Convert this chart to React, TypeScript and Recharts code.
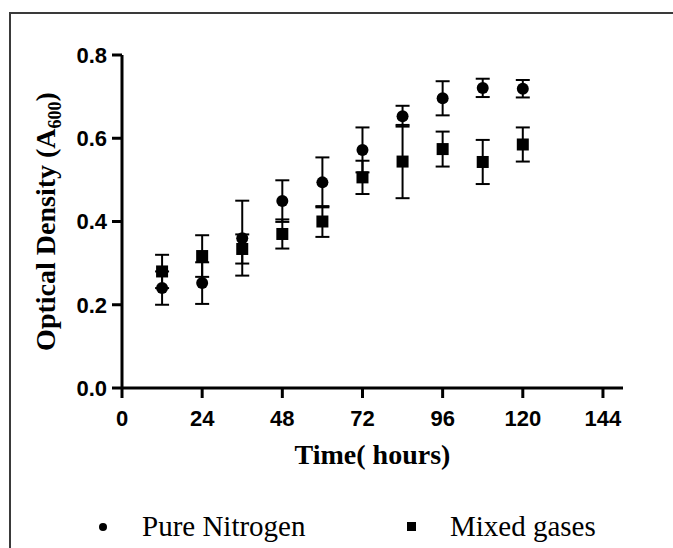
import { ScatterChart, Scatter, XAxis, YAxis, ErrorBar, Label, Legend } from "recharts";

// sampling times (hours)
const hours = [12, 24, 36, 48, 60, 72, 84, 96, 108, 120];

// optical density, pure nitrogen
const nitrogen = [0.24, 0.252, 0.36, 0.449, 0.494, 0.572, 0.653, 0.696, 0.721, 0.719];
const nitrogenErr = [0.04, 0.05, 0.09, 0.05, 0.06, 0.054, 0.025, 0.041, 0.022, 0.021];

// optical density, mixed gases
const mixed = [0.28, 0.317, 0.334, 0.37, 0.4, 0.506, 0.544, 0.574, 0.543, 0.585];
const mixedErr = [0.04, 0.05, 0.035, 0.035, 0.037, 0.04, 0.088, 0.042, 0.053, 0.041];

const xTicks = [0, 24, 48, 72, 96, 120, 144];
const yTicks = [0, 0.2, 0.4, 0.6, 0.8];

const nitrogenData = hours.map((x, i) => ({ x, y: nitrogen[i], err: nitrogenErr[i] }));
const mixedData = hours.map((x, i) => ({ x, y: mixed[i], err: mixedErr[i] }));

const sans = '"Liberation Sans", Arial, sans-serif';
const serif = '"Liberation Serif", "Times New Roman", serif';

const tickStyle = { fill: "#000", fontSize: 22, fontWeight: "bold", fontFamily: sans };

const Dot = (p: any) => <circle cx={p.cx} cy={p.cy} r={6} fill="#000" />;
const Square = (p: any) => <rect x={p.cx - 6} y={p.cy - 6} width={12} height={12} fill="#000" />;

const renderXLabel = (props: any) => {
  const vb = props.viewBox;
  return (
    <text
      x={vb.x + vb.width / 2}
      y={vb.y + 76}
      textAnchor="middle"
      fontFamily={serif}
      fontWeight="bold"
      fontSize={28}
      fill="#000"
    >
      Time( hours)
    </text>
  );
};

const renderYLabel = (props: any) => {
  const vb = props.viewBox;
  const x = 55;
  const y = vb.y + vb.height / 2;
  return (
    <text
      x={x}
      y={y}
      transform={`rotate(-90, ${x}, ${y})`}
      textAnchor="middle"
      fontFamily={serif}
      fontWeight="bold"
      fontSize={28}
      fill="#000"
    >
      Optical Density (A
      <tspan fontSize={18} dy={6}>
        600
      </tspan>
      <tspan dy={-6}>)</tspan>
    </text>
  );
};

const renderLegend = () => (
  <div style={{ position: "relative", width: 673, height: 44, fontFamily: serif, fontSize: 29, color: "#000" }}>
    <span
      style={{ position: "absolute", left: 99, top: 18, width: 8, height: 8, borderRadius: "50%", background: "#000" }}
    />
    <span style={{ position: "absolute", left: 142, top: 4, lineHeight: "34px" }}>Pure Nitrogen</span>
    <span style={{ position: "absolute", left: 407, top: 17, width: 9, height: 9, background: "#000" }} />
    <span style={{ position: "absolute", left: 450, top: 4, lineHeight: "34px" }}>Mixed gases</span>
  </div>
);

export default function App() {
  return (
    <div
      style={{
        position: "absolute",
        left: 0,
        top: 0,
        width: 673,
        height: 548,
        overflow: "hidden",
        background: "#fff",
      }}
    >
      <div
        style={{
          position: "absolute",
          left: 9,
          top: 12,
          width: 700,
          height: 600,
          border: "2px solid #3a3a3a",
        }}
      />
      <div style={{ position: "absolute", left: 0, top: 0 }}>
        <ScatterChart width={673} height={548} margin={{ top: 55, right: 50, bottom: 80, left: 0 }}>
          <XAxis
            type="number"
            dataKey="x"
            domain={[0, 150]}
            ticks={xTicks}
            allowDataOverflow
            height={80}
            axisLine={{ stroke: "#000", strokeWidth: 3 }}
            tickLine={{ stroke: "#000", strokeWidth: 3 }}
            tickSize={10}
            tickMargin={12}
            tick={tickStyle}
          >
            <Label content={renderXLabel} />
          </XAxis>
          <YAxis
            type="number"
            dataKey="y"
            domain={[0, 0.8]}
            ticks={yTicks}
            allowDataOverflow
            width={122}
            axisLine={{ stroke: "#000", strokeWidth: 3 }}
            tickLine={{ stroke: "#000", strokeWidth: 3 }}
            tickSize={10}
            tickMargin={5}
            tick={tickStyle}
            tickFormatter={(v: number) => v.toFixed(1)}
          >
            <Label content={renderYLabel} />
          </YAxis>
          <Legend
            layout="vertical"
            align="center"
            verticalAlign="middle"
            content={renderLegend}
            wrapperStyle={{ top: 505, left: 0, width: 673 }}
          />
          <Scatter name="Pure Nitrogen" data={nitrogenData} shape={Dot} isAnimationActive={false}>
            <ErrorBar dataKey="err" direction="y" width={7} stroke="#000" strokeWidth={2} />
          </Scatter>
          <Scatter name="Mixed gases" data={mixedData} shape={Square} isAnimationActive={false}>
            <ErrorBar dataKey="err" direction="y" width={7} stroke="#000" strokeWidth={2} />
          </Scatter>
        </ScatterChart>
      </div>
    </div>
  );
}
